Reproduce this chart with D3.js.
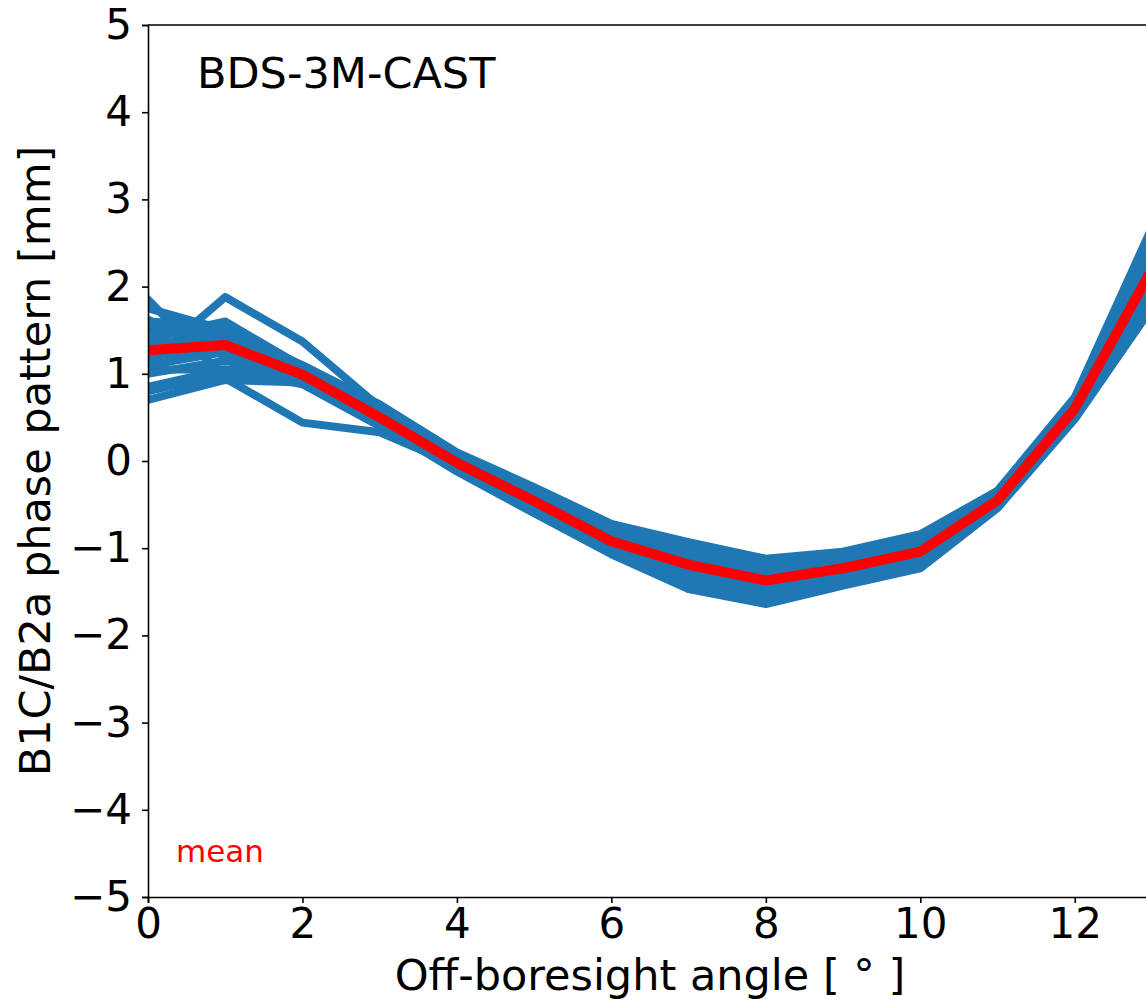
<!DOCTYPE html>
<html>
<head>
<meta charset="utf-8">
<script src="https://cdn.jsdelivr.net/npm/d3@7"></script>
<style>
  html, body { margin: 0; padding: 0; background: #fff; }
  svg { display: block; }
  text { font-family: "DejaVu Sans", sans-serif; }
</style>
</head>
<body>
<svg id="chart" width="1146" height="1002"></svg>
<script>
// ---- data ----
const angles = [0,1,2,3,4,5,6,7,8,9,10,11,12,13];
const xTicks = [0,2,4,6,8,10,12];
const yTicks = [-5,-4,-3,-2,-1,0,1,2,3,4,5];
const titleText = "BDS-3M-CAST";
const meanLabel = "mean";
const xLabel = "Off-boresight angle [ ° ]";
const yLabel = "B1C/B2a phase pattern [mm]";

const sat01 = [1.85,0.95,0.44,0.33,-0.05,-0.50,-0.95,-1.25,-1.40,-1.25,-1.05,-0.45,0.60,2.20];
const sat02 = [1.12,1.88,1.37,0.62,0.05,-0.35,-0.78,-1.00,-1.18,-1.08,-0.90,-0.38,0.70,2.60];
const sat03 = [1.75,1.50,1.08,0.60,0.08,-0.32,-0.74,-0.95,-1.15,-1.06,-0.86,-0.36,0.72,2.65];
const sat04 = [1.60,1.55,1.05,0.55,0.02,-0.40,-0.85,-1.10,-1.25,-1.12,-0.95,-0.40,0.65,2.45];
const sat05 = [1.50,1.45,1.05,0.52,0.00,-0.45,-0.90,-1.15,-1.30,-1.18,-0.98,-0.42,0.62,2.30];
const sat06 = [1.40,1.60,1.08,0.58,0.04,-0.38,-0.80,-1.05,-1.22,-1.10,-0.92,-0.38,0.68,2.50];
const sat07 = [1.30,1.38,1.00,0.50,-0.02,-0.46,-0.92,-1.20,-1.38,-1.22,-1.03,-0.45,0.58,2.15];
const sat08 = [1.20,1.30,0.95,0.48,-0.04,-0.48,-0.95,-1.25,-1.42,-1.28,-1.08,-0.47,0.56,2.05];
const sat09 = [1.62,1.20,0.95,0.45,-0.06,-0.52,-0.98,-1.30,-1.50,-1.32,-1.12,-0.48,0.55,2.00];
const sat10 = [1.10,1.25,0.90,0.44,-0.08,-0.55,-1.00,-1.35,-1.55,-1.36,-1.15,-0.50,0.52,1.90];
const sat11 = [1.05,1.05,0.88,0.40,-0.10,-0.58,-1.03,-1.42,-1.60,-1.40,-1.18,-0.52,0.50,1.80];
const sat12 = [0.85,1.05,1.00,0.50,-0.05,-0.50,-0.98,-1.30,-1.45,-1.30,-1.10,-0.47,0.58,2.10];
const sat13 = [0.70,0.93,0.90,0.42,-0.12,-0.60,-1.07,-1.47,-1.64,-1.43,-1.23,-0.54,0.48,1.76];
const sat14 = [0.80,1.00,0.93,0.46,-0.08,-0.55,-1.02,-1.38,-1.55,-1.38,-1.18,-0.50,0.52,1.85];
const sat15 = [1.55,1.50,1.10,0.65,0.10,-0.30,-0.72,-0.93,-1.12,-1.04,-0.84,-0.34,0.73,2.68];
const sat16 = [1.35,1.40,1.05,0.55,0.00,-0.42,-0.88,-1.12,-1.30,-1.15,-0.98,-0.42,0.62,2.35];
const sat17 = [1.25,1.50,1.06,0.52,-0.02,-0.44,-0.86,-1.18,-1.33,-1.20,-1.00,-0.44,0.60,2.25];
const sat18 = [1.00,1.15,0.97,0.47,-0.04,-0.50,-0.95,-1.28,-1.45,-1.30,-1.08,-0.46,0.57,2.05];
const meanPattern = [1.27,1.33,0.99,0.50,-0.02,-0.46,-0.92,-1.19,-1.37,-1.23,-1.04,-0.45,0.60,2.20];

const satellites = [sat01,sat02,sat03,sat04,sat05,sat06,sat07,sat08,sat09,
                    sat10,sat11,sat12,sat13,sat14,sat15,sat16,sat17,sat18];

// ---- layout ----
const mLeft = 148, mTop = 25, mRight = 1152, mBottom = 897;
const svg = d3.select("#chart");

const x = d3.scaleLinear().domain([0, 13]).range([mLeft, mRight]);
const y = d3.scaleLinear().domain([-5, 5]).range([mBottom, mTop]);

svg.append("defs").append("clipPath").attr("id", "plotclip")
  .append("rect").attr("x", mLeft).attr("y", mTop)
  .attr("width", mRight - mLeft).attr("height", mBottom - mTop);

const line = d3.line().x((d, i) => x(angles[i])).y(d => y(d));

const plot = svg.append("g").attr("clip-path", "url(#plotclip)");
plot.selectAll("path.sat").data(satellites).enter().append("path")
  .attr("class", "sat")
  .attr("d", line)
  .attr("fill", "none")
  .attr("stroke", "#1f77b4")
  .attr("stroke-width", 8)
  .attr("stroke-linejoin", "round")
  .attr("stroke-linecap", "square");

plot.append("path").datum(meanPattern)
  .attr("d", line)
  .attr("fill", "none")
  .attr("stroke", "#ff0000")
  .attr("stroke-width", 10)
  .attr("stroke-linejoin", "round")
  .attr("stroke-linecap", "square");

// ---- axes ----
const fmt = d => d < 0 ? "\u2212" + Math.abs(d) : String(d);
const tickFont = 42;

const xAxis = svg.append("g").attr("transform", `translate(0,${mBottom})`)
  .call(d3.axisBottom(x).tickValues(xTicks).tickFormat(fmt).tickSizeOuter(0).tickSize(6).tickPadding(5));
const yAxis = svg.append("g").attr("transform", `translate(${mLeft},0)`)
  .call(d3.axisLeft(y).tickValues(yTicks).tickFormat(fmt).tickSizeOuter(0).tickSize(6).tickPadding(10));

[xAxis, yAxis].forEach(a => {
  a.select(".domain").attr("stroke", "#000").attr("stroke-width", 1.6);
  a.selectAll(".tick line").attr("stroke", "#000").attr("stroke-width", 1.6);
  a.selectAll(".tick text").attr("fill", "#000")
    .style("font-family", "'DejaVu Sans', sans-serif").style("font-size", tickFont + "px");
});

// top / right spines
svg.append("line").attr("x1", mLeft).attr("x2", mRight).attr("y1", mTop).attr("y2", mTop)
  .attr("stroke", "#000").attr("stroke-width", 1.6);
svg.append("line").attr("x1", mRight).attr("x2", mRight).attr("y1", mTop).attr("y2", mBottom)
  .attr("stroke", "#000").attr("stroke-width", 1.6);

// ---- texts ----
svg.append("text").attr("x", 197).attr("y", 88)
  .style("font-size", "43px").attr("fill", "#000").text(titleText);

svg.append("text").attr("x", 176).attr("y", 862)
  .style("font-size", "31px").attr("fill", "#ff0000").text(meanLabel);

svg.append("text").attr("x", (mLeft + mRight) / 2).attr("y", 990)
  .attr("text-anchor", "middle").style("font-size", "43px").attr("fill", "#000").text(xLabel);

svg.append("text")
  .attr("transform", `translate(50,${(mTop + mBottom) / 2}) rotate(-90)`)
  .attr("text-anchor", "middle").style("font-size", "43px").attr("fill", "#000").text(yLabel);
</script>
</body>
</html>
